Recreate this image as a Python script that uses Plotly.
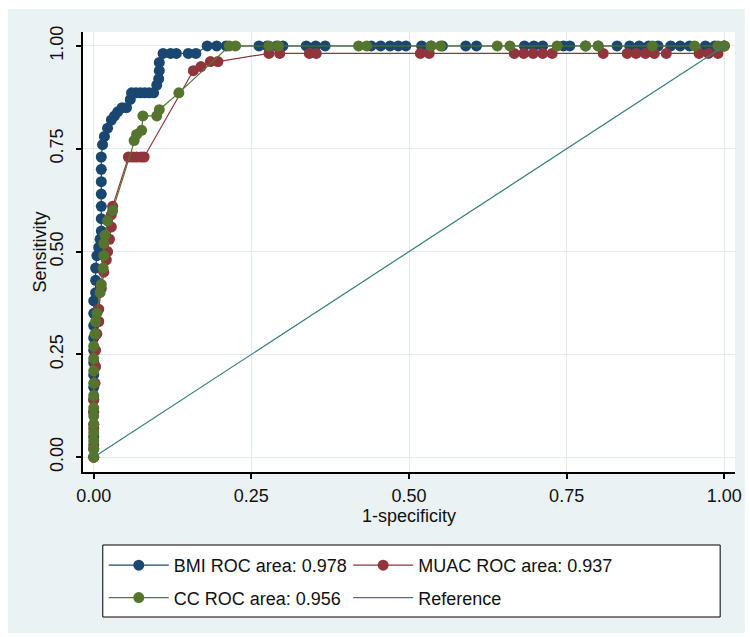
import plotly.graph_objects as go

# ---------------- data ----------------
bmi_fpr = [0, 0, 0, 0, 0, 0, 0, 0, 0, 0, 0, 0, 0, 0,
           0.003, 0.003, 0.003, 0.005, 0.008, 0.010, 0.012, 0.012, 0.012, 0.012,
           0.012, 0.012, 0.012, 0.014, 0.017, 0.022, 0.028, 0.033, 0.038, 0.045,
           0.052, 0.058, 0.060, 0.067, 0.074, 0.081, 0.088, 0.095, 0.100, 0.103,
           0.104, 0.104, 0.110, 0.122, 0.131, 0.150, 0.162,
           0.180, 0.195, 0.210, 0.262, 0.275, 0.290, 0.300, 0.337, 0.352, 0.367,
           0.440, 0.455, 0.470, 0.483, 0.495, 0.520, 0.535, 0.553, 0.590, 0.607,
           0.683, 0.698, 0.712, 0.745, 0.755, 0.780, 0.800, 0.830, 0.850, 0.865,
           0.880, 0.895, 0.915, 0.930, 0.945, 0.970, 0.985, 1.0]
bmi_tpr = [0, 0.02, 0.05, 0.08, 0.11, 0.14, 0.17, 0.20, 0.23, 0.26, 0.29, 0.32, 0.35, 0.38,
           0.40, 0.43, 0.46, 0.49, 0.51, 0.53, 0.55, 0.58, 0.61, 0.64,
           0.67, 0.70, 0.73, 0.76, 0.78, 0.80, 0.82, 0.83, 0.84, 0.85,
           0.85, 0.87, 0.886, 0.886, 0.886, 0.886, 0.886, 0.886, 0.905, 0.92,
           0.94, 0.96, 0.982, 0.982, 0.982, 0.982, 0.982,
           1, 1, 1, 1, 1, 1, 1, 1, 1, 1,
           1, 1, 1, 1, 1, 1, 1, 1, 1, 1,
           1, 1, 1, 1, 1, 1, 1, 1, 1, 1,
           1, 1, 1, 1, 1, 1, 1, 1]

muac_fpr = [0, 0, 0, 0, 0, 0.002, 0.003, 0.003, 0.005, 0.008, 0.008, 0.012, 0.016,
            0.020, 0.022, 0.025, 0.028, 0.028, 0.030, 0.055, 0.062, 0.068, 0.075,
            0.080, 0.158, 0.170, 0.185, 0.197,
            0.278, 0.295, 0.342, 0.353, 0.518, 0.532, 0.667, 0.682, 0.697, 0.712,
            0.727, 0.808, 0.846, 0.860, 0.875, 0.889, 0.908, 0.960, 0.975, 0.990, 1.0]
muac_tpr = [0, 0.03, 0.07, 0.11, 0.14, 0.18, 0.22, 0.26, 0.30, 0.33, 0.36, 0.41, 0.45,
            0.48, 0.50, 0.53, 0.56, 0.59, 0.61, 0.73, 0.73, 0.73, 0.73,
            0.73, 0.94, 0.95, 0.962, 0.962,
            0.982, 0.982, 0.982, 0.982, 0.982, 0.982, 0.982, 0.982, 0.982, 0.982,
            0.982, 0.982, 0.982, 0.982, 0.982, 0.982, 0.982, 0.982, 0.982, 0.982, 1.0]

cc_fpr = [0, 0, 0, 0, 0, 0, 0, 0, 0, 0, 0, 0, 0.002, 0.003, 0.005, 0.010, 0.012,
          0.015, 0.016, 0.016, 0.018, 0.022, 0.030, 0.064, 0.068, 0.076, 0.078,
          0.100, 0.104, 0.135,
          0.215, 0.225, 0.278, 0.293, 0.420, 0.433, 0.535, 0.550, 0.640, 0.660,
          0.735, 0.780, 0.800, 0.886, 0.953, 0.990, 1.0]
cc_tpr = [0, 0.02, 0.04, 0.06, 0.08, 0.10, 0.12, 0.15, 0.18, 0.21, 0.24, 0.27, 0.30,
          0.33, 0.35, 0.40, 0.42, 0.46, 0.49, 0.52, 0.54, 0.575, 0.60, 0.77, 0.785,
          0.795, 0.83, 0.83, 0.845, 0.886,
          1, 1, 1, 1, 1, 1, 1, 1, 1, 1,
          1, 1, 1, 1, 1, 1, 1]

ref_x = [0, 1]
ref_y = [0, 1]

series_names = ["BMI ROC area: 0.978", "MUAC ROC area: 0.937",
                "CC ROC area: 0.956", "Reference"]
tick_vals = [0, 0.25, 0.5, 0.75, 1]
tick_text = ["0.00", "0.25", "0.50", "0.75", "1.00"]
x_title = "1-specificity"
y_title = "Sensitivity"

# ---------------- styles ----------------
C_BMI = "#1a476f"
C_MUAC = "#90353b"
C_CC = "#55752f"
C_REF = "#347f7c"
FONT = "Liberation Sans, Arial, sans-serif"
MS = 11

fig = go.Figure()
fig.add_trace(go.Scatter(x=bmi_fpr, y=bmi_tpr, mode="lines+markers", name=series_names[0],
                         line=dict(color=C_BMI, width=1.2),
                         marker=dict(color=C_BMI, size=MS),
                         legend="legend", legendgroup="a"))
fig.add_trace(go.Scatter(x=muac_fpr, y=muac_tpr, mode="lines+markers", name=series_names[1],
                         line=dict(color=C_MUAC, width=1.2),
                         marker=dict(color=C_MUAC, size=MS),
                         legend="legend2", legendgroup="b"))
fig.add_trace(go.Scatter(x=cc_fpr, y=cc_tpr, mode="lines+markers", name=series_names[2],
                         line=dict(color=C_CC, width=1.2),
                         marker=dict(color=C_CC, size=MS),
                         legend="legend", legendgroup="c"))
fig.add_trace(go.Scatter(x=ref_x, y=ref_y, mode="lines", name=series_names[3],
                         line=dict(color=C_REF, width=1.2),
                         legend="legend2", legendgroup="d"))

L, R, T, B = 83, 8, 32, 165
W, H = 750, 637
pw, ph = W - L - R, H - T - B


def px2paper_x(px):
    return (px - L) / pw


def px2paper_y(py):
    return (H - B - py) / ph


shapes = [
    dict(type="rect", xref="paper", yref="paper", layer="below",
         x0=px2paper_x(7), x1=px2paper_x(752), y0=px2paper_y(633), y1=px2paper_y(9),
         fillcolor="#eaf2f3", line=dict(width=0)),
    dict(type="rect", xref="paper", yref="paper", layer="below",
         x0=0, x1=1, y0=0, y1=1, fillcolor="white", line=dict(width=0)),
    dict(type="rect", xref="paper", yref="paper", layer="below",
         x0=px2paper_x(103), x1=px2paper_x(727), y0=px2paper_y(617), y1=px2paper_y(545),
         fillcolor="white", line=dict(color="black", width=1)),
]

legend_common = dict(orientation="v", bgcolor="rgba(0,0,0,0)", borderwidth=0,
                     font=dict(family=FONT, size=18, color="#111"),
                     itemwidth=60, tracegroupgap=6, yanchor="top", xanchor="left",
                     itemclick=False)

fig.update_layout(
    width=W, height=H,
    margin=dict(l=L, r=R, t=T, b=B),
    paper_bgcolor="white", plot_bgcolor="white",
    font=dict(family=FONT, size=18, color="#111"),
    shapes=shapes,
    showlegend=True,
    legend=dict(x=px2paper_x(104), y=px2paper_y(547), **legend_common),
    legend2=dict(x=px2paper_x(351), y=px2paper_y(547), **legend_common),
    annotations=[dict(text=y_title, xref="paper", yref="paper",
                      x=px2paper_x(40), y=0.5, xanchor="center", yanchor="middle",
                      textangle=-90, showarrow=False, font=dict(size=18, color="#111"))],
    xaxis=dict(range=[-0.017, 1.017], tickvals=tick_vals, ticktext=tick_text,
               showgrid=True, gridcolor="#e3eced", gridwidth=1, zeroline=False,
               showline=True, linecolor="black", linewidth=2,
               ticks="outside", ticklen=5, tickwidth=1.5, tickcolor="black",
               tickfont=dict(size=18), ticklabelstandoff=1,
               title=dict(text=x_title, font=dict(size=18), standoff=1)),
    yaxis=dict(range=[-0.036, 1.034], tickvals=tick_vals, ticktext=tick_text,
               showgrid=True, gridcolor="#e3eced", gridwidth=1, zeroline=False,
               showline=True, linecolor="black", linewidth=2,
               ticks="outside", ticklen=5, tickwidth=1.5, tickcolor="black",
               tickangle=-90, tickfont=dict(size=18), ticklabelstandoff=6),
)

fig.write_html("out.html", config={"displayModeBar": False},
               post_script="document.body.style.margin='0';document.body.style.overflow='hidden';")
